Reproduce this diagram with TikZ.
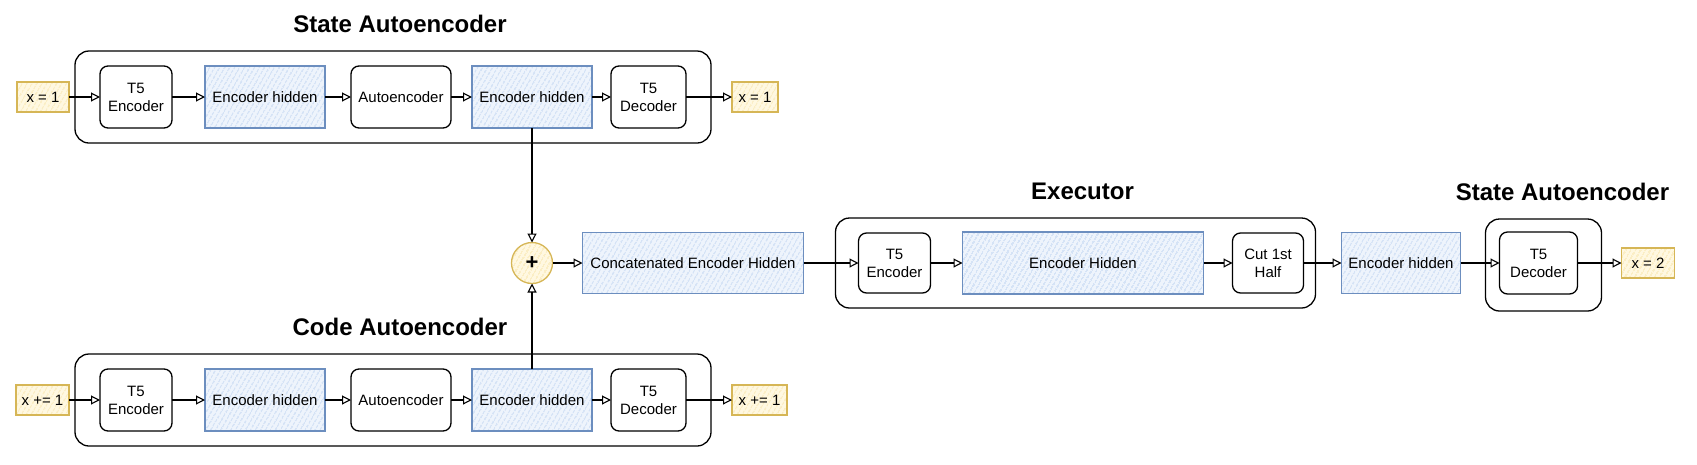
\documentclass[tikz,border=0pt]{standalone}
\usepackage{fontspec}
\setmainfont{Liberation Sans}
\usetikzlibrary{positioning, fit, arrows.meta, patterns.meta}
\definecolor{bluehatch}{HTML}{A9C4EB}
\definecolor{bluebg}{HTML}{EEF4FC}
\definecolor{blueline}{HTML}{6C8EBF}
\definecolor{yelhatch}{HTML}{F5DC92}
\definecolor{yelbg}{HTML}{FFF8E1}
\definecolor{yelline}{HTML}{D6B656}
\tikzstyle{io} = [rectangle, draw=yelline, line width=1.3pt, preaction={fill=yelbg}, pattern={Lines[angle=60,distance=4pt,line width=0.8pt]}, pattern color=yelhatch, minimum height=30pt, inner sep=0pt, outer sep=0pt]
\tikzstyle{blk} = [rectangle, rounded corners=8pt, draw=black, line width=1.3pt, fill=white, minimum width=72pt, minimum height=62pt, align=center, inner sep=0pt, outer sep=0pt]
\tikzstyle{hid} = [rectangle, draw=blueline, line width=1.3pt, preaction={fill=bluebg}, pattern={Lines[angle=60,distance=4pt,line width=0.8pt]}, pattern color=bluehatch, minimum width=120pt, minimum height=62pt, inner sep=0pt, outer sep=0pt]
\tikzstyle{sum} = [circle, draw=yelline, line width=1.3pt, preaction={fill=yelbg}, pattern={Lines[angle=60,distance=4pt,line width=0.8pt]}, pattern color=yelhatch, minimum size=41pt, inner sep=0pt, outer sep=0pt, font=\bfseries\fontsize{22}{22}\selectfont]
\tikzstyle{frame} = [rectangle, rounded corners=14pt, draw=black, line width=1.3pt, inner xsep=25pt, inner ysep=15pt, outer sep=0pt]
\tikzstyle{title} = [font=\bfseries\fontsize{24}{28}\selectfont, inner sep=0pt]
\tikzstyle{arrow} = [line width=1.1pt, -{Triangle[open, length=9pt, width=9pt]}]
\begin{document}
\begin{tikzpicture}[x=1pt, y=-1pt, font=\fontsize{15}{18}\selectfont]
	\useasboundingbox (0,0) rectangle (1697,464);
	\node (xin1) [io, minimum width=52pt] at (43,97) {x = 1};
	\node (tenc1) [blk, right=31pt of xin1] {T5\\Encoder};
	\node (hid1a) [hid, right=33pt of tenc1] {Encoder hidden};
	\node (ae1) [blk, minimum width=100pt, right=26pt of hid1a] {Autoencoder};
	\node (hid1b) [hid, right=21pt of ae1] {Encoder hidden};
	\node (tdec1) [blk, minimum width=75pt, right=19pt of hid1b] {T5\\Decoder};
	\node (xout1) [io, minimum width=46pt, right=46pt of tdec1] {x = 1};
	\node (sa1) [frame, fit=(tenc1)(tdec1)] {};
	\node (tsa1) [title, above=18pt of sa1, xshift=7pt] {State Autoencoder};
	\node (xin2) [io, minimum width=53pt] at (42.5,400) {x += 1};
	\node (tenc2) [blk, right=31pt of xin2] {T5\\Encoder};
	\node (hid2a) [hid, right=33pt of tenc2] {Encoder hidden};
	\node (ae2) [blk, minimum width=100pt, right=26pt of hid2a] {Autoencoder};
	\node (hid2b) [hid, right=21pt of ae2] {Encoder hidden};
	\node (tdec2) [blk, minimum width=75pt, right=19pt of hid2b] {T5\\Decoder};
	\node (xout2) [io, minimum width=55pt, right=46pt of tdec2] {x += 1};
	\node (ca2) [frame, fit=(tenc2)(tdec2)] {};
	\node (tca2) [title, above=18pt of ca2, xshift=7pt] {Code Autoencoder};
	\node (plus) [sum] at (532,263) {+};
	\node (concat) [hid, minimum width=221pt, minimum height=61pt, right=30pt of plus] {Concatenated Encoder Hidden};
	\node (tenc3) [blk, minimum height=60pt, right=55pt of concat] {T5\\Encoder};
	\node (hid3) [hid, minimum width=241pt, right=32pt of tenc3] {Encoder Hidden};
	\node (cut) [blk, minimum width=71pt, minimum height=60pt, right=29pt of hid3] {Cut 1st\\Half};
	\node (ex) [frame, fit=(tenc3)(cut), inner xsep=17.5pt, xshift=-5.5pt] {};
	\node (tex) [title, above=18pt of ex, xshift=7pt] {Executor};
	\node (hid4) [hid, minimum width=119pt, minimum height=61pt, right=38pt of cut] {Encoder hidden};
	\node (tdec3) [blk, minimum width=78pt, right=39pt of hid4] {T5\\Decoder};
	\node (sa3) [frame, fit=(tdec3), inner xsep=19pt, xshift=5pt, yshift=-2pt] {};
	\node (tsa3) [title, above=18pt of sa3, xshift=19pt] {State Autoencoder};
	\node (xout3) [io, minimum width=53pt, right=44pt of tdec3] {x = 2};
	\draw [arrow] (xin1) -- (tenc1);
	\draw [arrow] (tenc1) -- (hid1a);
	\draw [arrow] (hid1a) -- (ae1);
	\draw [arrow] (ae1) -- (hid1b);
	\draw [arrow] (hid1b) -- (tdec1);
	\draw [arrow] (tdec1) -- (xout1);
	\draw [arrow] (xin2) -- (tenc2);
	\draw [arrow] (tenc2) -- (hid2a);
	\draw [arrow] (hid2a) -- (ae2);
	\draw [arrow] (ae2) -- (hid2b);
	\draw [arrow] (hid2b) -- (tdec2);
	\draw [arrow] (tdec2) -- (xout2);
	\draw [arrow] (hid1b) -- (plus);
	\draw [arrow] (hid2b) -- (plus);
	\draw [arrow] (plus) -- (concat);
	\draw [arrow] (concat) -- (tenc3);
	\draw [arrow] (tenc3) -- (hid3);
	\draw [arrow] (hid3) -- (cut);
	\draw [arrow] (cut) -- (hid4);
	\draw [arrow] (hid4) -- (tdec3);
	\draw [arrow] (tdec3) -- (xout3);
\end{tikzpicture}
\end{document}
